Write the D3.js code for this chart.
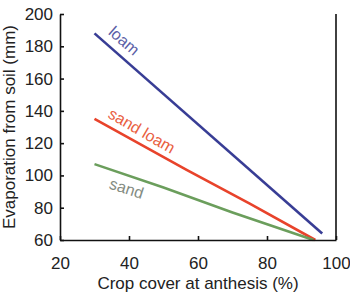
<!DOCTYPE html>
<html>
<head>
<meta charset="utf-8">
<script src="https://cdn.jsdelivr.net/npm/d3@7"></script>
<style>
  body { margin: 0; background: #fff; }
  svg text { font-family: "Liberation Sans", Arial, sans-serif; fill: #222; }
</style>
</head>
<body>
<div id="chart"></div>
<script>
// soil series: crop cover (%) vs evaporation from soil (mm)
var loamCover = [30, 96]
var loamEvap = [188, 64]
var sandLoamCover = [30, 56.7, 75, 94]
var sandLoamEvap = [135, 103.5, 82.5, 60]
var sandCover = [30, 50, 70, 93.5]
var sandEvap = [107, 92.5, 77, 60]

var xTicks = [20, 40, 60, 80, 100]
var yTicks = [60, 80, 100, 120, 140, 160, 180, 200]

var width = 350, height = 297
var svg = d3.select('#chart').append('svg')
  .attr('width', width)
  .attr('height', height)

var x = d3.scaleLinear().domain([20, 100]).range([60, 336])
var y = d3.scaleLinear().domain([60, 200]).range([240, 14])

var line = d3.line()
  .x(function (d) { return x(d[0]) })
  .y(function (d) { return y(d[1]) })

var series = [
  { name: 'loam', cover: loamCover, evap: loamEvap, color: '#383d95', textColor: '#5a5ea6',
    lx: 38.6, ly: 183.5, angle: 41 },
  { name: 'sand loam', cover: sandLoamCover, evap: sandLoamEvap, color: '#e8432b', textColor: '#e9603f',
    lx: 43.7, ly: 127.7, angle: 30 },
  { name: 'sand', cover: sandCover, evap: sandEvap, color: '#6b9e5c', textColor: '#848c82',
    lx: 39.3, ly: 92, angle: 18 }
]

series.forEach(function (s) {
  var pts = d3.zip(s.cover, s.evap)
  svg.append('path')
    .attr('d', line(pts))
    .attr('fill', 'none')
    .attr('stroke', s.color)
    .attr('stroke-width', 2.6)

  svg.append('text')
    .attr('transform', 'translate(' + x(s.lx) + ',' + y(s.ly) + ') rotate(' + s.angle + ')')
    .attr('text-anchor', 'middle')
    .attr('dy', '0.35em')
    .style('font-size', '16px')
    .style('fill', s.textColor)
    .text(s.name)
})

// axes
var yAxis = d3.axisLeft(y).tickValues(yTicks).tickSizeInner(-4).tickSizeOuter(0).tickPadding(7)
var xAxis = d3.axisBottom(x).tickValues(xTicks).tickSizeInner(-4).tickSizeOuter(0).tickPadding(17)

var gy = svg.append('g').attr('transform', 'translate(60,0)').call(yAxis)
var gx = svg.append('g').attr('transform', 'translate(0,240)').call(xAxis)

;[gx, gy].forEach(function (g) {
  g.select('.domain').attr('stroke', '#111').attr('stroke-width', 1.6)
  g.selectAll('.tick line').attr('stroke', '#111').attr('stroke-width', 1.6)
  g.selectAll('.tick text')
    .style('font-size', '17px')
    .style('font-family', '"Liberation Sans", Arial, sans-serif')
    .attr('fill', '#222')
})

// right frame line
svg.append('line')
  .attr('x1', x(100)).attr('x2', x(100))
  .attr('y1', y(200)).attr('y2', y(60))
  .attr('stroke', '#111')
  .attr('stroke-width', 1.6)

svg.append('text')
  .attr('x', (x(20) + x(100)) / 2)
  .attr('y', 289)
  .attr('text-anchor', 'middle')
  .style('font-size', '17px')
  .text('Crop cover at anthesis (%)')

svg.append('text')
  .attr('transform', 'translate(15,' + (y(60) + y(200)) / 2 + ') rotate(-90)')
  .attr('text-anchor', 'middle')
  .style('font-size', '17px')
  .text('Evaporation from soil (mm)')
</script>
</body>
</html>
